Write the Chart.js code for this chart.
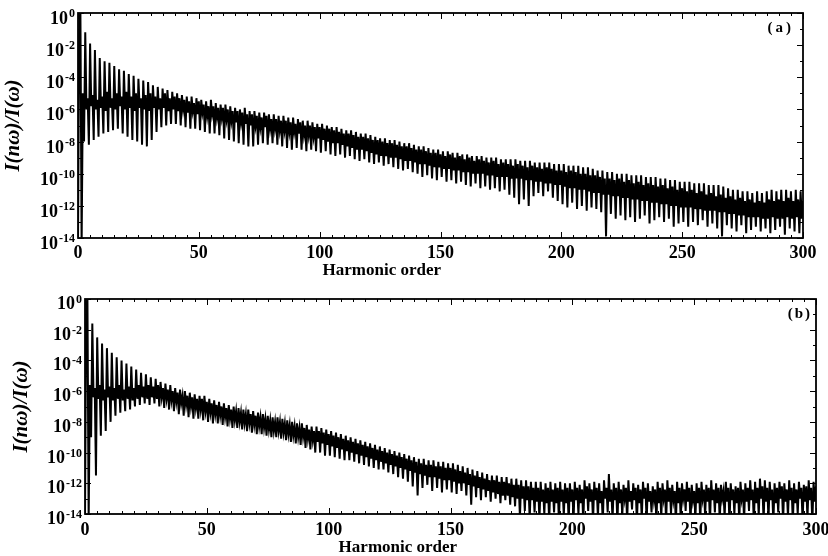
<!DOCTYPE html>
<html>
<head>
<meta charset="utf-8">
<script src="https://cdn.jsdelivr.net/npm/chart.js@4.4.1/dist/chart.umd.min.js"></script>
<style>
  body { margin: 0; background: #fff; width: 828px; height: 556px; overflow: hidden; position: relative; }
  canvas { position: absolute; left: 0; }
  #chartA { top: 0; }
  #chartB { top: 275px; }
</style>
</head>
<body>
<canvas id="chartA" width="828" height="275"></canvas>
<canvas id="chartB" width="828" height="281"></canvas>
<script>
// Values are log10 of I(nw)/I(w).
// "upper" holds the values at whole harmonic orders 0..300,
// "lower" the values half an order later (0.5..299.5).

const upperA = [
  -14.5, 0, -5.0, -1.2, -5.3, -1.9, -5.1, -2.3, -5.4, -2.8,
  -5.2, -3.0, -4.9, -3.1, -5.3, -3.3, -5.0, -3.5, -5.2, -3.6,
  -4.9, -3.8, -5.2, -3.9, -5.0, -4.1, -5.3, -4.2, -5.1, -4.3,
  -5.0, -4.5, -5.2, -4.6, -5.3, -4.7, -5.0, -4.8, -5.3, -4.9,
  -5.2, -5.0, -5.3, -5.1, -5.4, -5.2, -5.5, -5.2, -5.6, -5.3,
  -5.5, -5.4, -5.7, -5.5, -5.8, -5.4, -5.8, -5.6, -5.9, -5.7,
  -5.9, -5.7, -6.0, -5.8, -6.1, -5.9, -6.1, -6.0, -6.2, -5.9,
  -6.3, -6.1, -6.3, -6.1, -6.4, -6.2, -6.5, -6.2, -6.4, -6.3,
  -6.6, -6.3, -6.6, -6.4, -6.7, -6.4, -6.7, -6.5, -6.8, -6.5,
  -6.9, -6.6, -6.8, -6.7, -7.0, -6.7, -7.0, -6.8, -7.1, -6.9,
  -7.1, -6.9, -7.2, -7.0, -7.2, -7.1, -7.3, -7.1, -7.4, -7.2,
  -7.5, -7.3, -7.5, -7.3, -7.6, -7.4, -7.7, -7.5, -7.7, -7.5,
  -7.8, -7.6, -7.9, -7.7, -7.9, -7.8, -8.0, -7.8, -8.1, -7.9,
  -8.1, -7.9, -8.2, -8.0, -8.3, -8.1, -8.3, -8.1, -8.4, -8.2,
  -8.5, -8.3, -8.5, -8.3, -8.6, -8.4, -8.7, -8.5, -8.7, -8.5,
  -8.8, -8.6, -8.9, -8.6, -8.8, -8.7, -9.0, -8.7, -8.9, -8.8,
  -9.1, -8.8, -9.0, -8.9, -9.2, -8.9, -9.1, -8.9, -9.2, -9.0,
  -9.3, -9.0, -9.2, -9.0, -9.4, -9.1, -9.3, -9.1, -9.4, -9.1,
  -9.5, -9.1, -9.4, -9.2, -9.5, -9.2, -9.6, -9.2, -9.5, -9.3,
  -9.6, -9.3, -9.7, -9.3, -9.6, -9.3, -9.7, -9.4, -9.8, -9.4,
  -9.8, -9.4, -9.9, -9.5, -9.8, -9.5, -9.9, -9.5, -10.0, -9.6,
  -10.0, -9.6, -10.1, -9.7, -10.1, -9.8, -10.2, -9.8, -10.3, -9.9,
  -10.3, -9.9, -10.4, -10.0, -10.3, -10.0, -10.5, -10.0, -10.4, -10.1,
  -10.6, -10.1, -10.5, -10.1, -10.7, -10.2, -10.6, -10.2, -10.7, -10.2,
  -10.8, -10.3, -10.7, -10.3, -10.9, -10.4, -10.8, -10.4, -11.0, -10.5,
  -10.9, -10.5, -11.1, -10.5, -11.0, -10.6, -11.2, -10.6, -11.1, -10.6,
  -11.3, -10.7, -11.2, -10.7, -11.4, -10.7, -11.3, -10.8, -11.5, -10.9,
  -11.4, -11.0, -11.6, -11.0, -11.5, -11.1, -11.7, -11.1, -11.6, -11.2,
  -11.8, -11.1, -11.7, -11.2, -11.8, -11.1, -11.6, -11.0, -11.7, -11.1,
  -11.6, -11.0, -11.7, -11.0, -11.5, -11.1, -11.7, -11.0, -11.6, -11.1,
  -11.7
];

const lowerA = [
  -0.3, -14.5, -8.0, -6.0, -8.2, -5.8, -7.9, -6.0, -7.7, -5.9,
  -7.5, -6.1, -7.4, -5.9, -7.3, -6.0, -7.2, -5.8, -7.5, -6.0,
  -7.7, -5.9, -7.9, -6.1, -8.0, -5.9, -8.2, -6.0, -8.3, -6.1,
  -7.9, -5.9, -7.4, -6.0, -7.1, -5.9, -7.0, -6.1, -6.9, -6.0,
  -6.9, -6.1, -7.0, -6.0, -7.1, -6.2, -7.2, -6.1, -7.2, -6.3,
  -7.3, -6.2, -7.4, -6.4, -7.5, -6.3, -7.5, -6.5, -7.6, -6.5,
  -7.8, -6.6, -7.9, -6.7, -8.0, -6.8, -8.1, -6.8, -8.2, -6.9,
  -8.3, -7.0, -8.3, -7.0, -8.2, -7.1, -8.1, -7.1, -8.2, -7.2,
  -8.1, -7.2, -8.2, -7.3, -8.3, -7.3, -8.4, -7.4, -8.5, -7.4,
  -8.4, -7.5, -8.5, -7.6, -8.6, -7.6, -8.5, -7.7, -8.6, -7.8,
  -8.7, -7.9, -8.6, -8.0, -8.8, -8.1, -8.9, -8.1, -8.8, -8.2,
  -9.0, -8.3, -8.9, -8.4, -9.1, -8.5, -9.2, -8.5, -9.1, -8.6,
  -9.3, -8.7, -9.4, -8.8, -9.3, -8.9, -9.5, -8.9, -9.4, -9.0,
  -9.6, -9.0, -9.7, -9.1, -9.8, -9.2, -9.7, -9.2, -9.9, -9.3,
  -10.0, -9.4, -10.2, -9.4, -10.1, -9.5, -10.3, -9.6, -10.4, -9.6,
  -10.2, -9.7, -10.5, -9.7, -10.4, -9.8, -10.6, -9.8, -10.5, -9.9,
  -10.7, -9.9, -10.8, -10.0, -10.6, -10.0, -10.9, -10.0, -10.8, -10.1,
  -11.0, -10.1, -10.9, -10.2, -11.1, -10.2, -11.0, -10.2, -11.3, -10.3,
  -11.5, -10.3, -11.9, -10.3, -11.6, -10.4, -12.0, -10.4, -11.4, -10.5,
  -11.2, -10.5, -11.4, -10.6, -11.1, -10.6, -11.5, -10.7, -11.7, -10.7,
  -11.9, -10.8, -12.1, -10.9, -11.8, -10.9, -12.2, -11.0, -12.0, -11.0,
  -12.3, -11.1, -12.1, -11.2, -12.2, -11.2, -12.4, -11.3, -13.9, -11.3,
  -12.5, -11.4, -12.8, -11.4, -12.6, -11.5, -12.9, -11.5, -12.7, -11.6,
  -13.0, -11.6, -12.8, -11.7, -12.6, -11.7, -13.1, -11.8, -12.9, -11.8,
  -12.7, -11.9, -13.0, -11.9, -12.8, -12.0, -13.3, -12.0, -13.1, -12.1,
  -13.0, -12.1, -13.3, -12.1, -13.0, -12.2, -13.2, -12.2, -12.9, -12.3,
  -13.3, -12.3, -13.1, -12.3, -13.4, -12.4, -13.9, -12.4, -13.2, -12.5,
  -13.4, -12.5, -13.6, -12.6, -13.2, -12.6, -13.7, -12.7, -13.5, -12.7,
  -13.3, -12.7, -13.6, -12.8, -13.4, -12.8, -13.7, -12.7, -13.5, -12.8,
  -13.3, -12.8, -13.8, -12.7, -13.4, -12.8, -13.6, -12.7, -13.7, -12.8
];

const upperB = [
  -14.5, 0, -5.6, -1.6, -5.8, -2.5, -5.6, -2.9, -5.9, -3.2,
  -5.7, -3.5, -5.8, -3.8, -5.6, -4.0, -5.9, -4.2, -5.7, -4.4,
  -5.8, -4.6, -5.6, -4.8, -5.7, -4.9, -5.6, -5.1, -5.7, -5.2,
  -5.6, -5.4, -5.8, -5.5, -5.9, -5.6, -6.0, -5.8, -6.1, -5.9,
  -6.3, -6.0, -6.3, -6.1, -6.4, -6.2, -6.5, -6.3, -6.5, -6.3,
  -6.7, -6.5, -6.8, -6.6, -6.9, -6.7, -7.0, -6.8, -7.1, -6.9,
  -7.2, -7.0, -7.3, -7.1, -7.4, -7.2, -7.5, -7.2, -7.5, -7.3,
  -7.6, -7.4, -7.7, -7.5, -7.8, -7.6, -7.9, -7.7, -8.0, -7.7,
  -8.0, -7.8, -8.1, -7.9, -8.2, -8.0, -8.3, -8.1, -8.4, -8.1,
  -8.4, -8.2, -8.5, -8.3, -8.6, -8.3, -8.6, -8.4, -8.7, -8.5,
  -8.8, -8.6, -8.9, -8.7, -9.0, -8.8, -9.1, -8.9, -9.2, -9.0,
  -9.3, -9.1, -9.4, -9.2, -9.5, -9.3, -9.6, -9.4, -9.7, -9.5,
  -9.8, -9.6, -9.9, -9.7, -10.0, -9.8, -10.1, -9.9, -10.2, -10.0,
  -10.3, -10.1, -10.4, -10.2, -10.5, -10.3, -10.6, -10.4, -10.7, -10.4,
  -10.8, -10.5, -10.8, -10.5, -10.9, -10.6, -10.9, -10.6, -11.0, -10.7,
  -11.0, -10.7, -11.1, -10.8, -11.2, -10.9, -11.3, -11.0, -11.4, -11.1,
  -11.5, -11.2, -11.6, -11.3, -11.7, -11.4, -11.8, -11.5, -11.8, -11.5,
  -11.9, -11.6, -11.9, -11.6, -12.0, -11.7, -12.1, -11.7, -12.1, -11.8,
  -12.2, -11.8, -12.2, -11.9, -12.3, -11.9, -12.3, -11.9, -12.4, -12.0,
  -12.3, -11.9, -12.4, -12.0, -12.3, -11.9, -12.4, -12.0, -12.3, -12.0,
  -12.4, -11.9, -12.3, -12.1, -12.4, -11.8, -12.2, -12.0, -12.4, -11.9,
  -12.3, -12.0, -12.5, -11.8, -12.3, -11.4, -12.4, -12.0, -12.3, -11.9,
  -12.4, -12.1, -12.3, -11.8, -12.5, -12.0, -12.3, -12.1, -12.4, -11.9,
  -12.3, -12.0, -12.5, -12.2, -12.4, -11.9, -12.3, -12.0, -12.4, -11.8,
  -12.3, -12.1, -12.5, -11.9, -12.3, -12.0, -12.4, -11.9, -12.3, -12.1,
  -12.5, -12.0, -12.3, -11.9, -12.4, -12.1, -12.3, -11.8, -12.4, -12.0,
  -12.3, -12.1, -12.5, -11.9, -12.3, -12.0, -12.4, -12.2, -12.3, -11.9,
  -12.4, -12.0, -12.3, -11.8, -12.4, -11.9, -12.3, -11.7, -12.2, -11.8,
  -12.3, -11.9, -12.4, -12.0, -12.3, -11.9, -12.2, -12.0, -12.4, -11.8,
  -12.3, -12.0, -12.4, -11.9, -12.3, -12.1, -12.2, -11.8, -12.3, -11.9,
  -12.2
];

const lowerB = [
  -0.3, -14.5, -9.0, -6.4, -11.5, -6.5, -8.9, -6.6, -8.6, -6.4,
  -8.0, -6.6, -7.6, -6.5, -7.4, -6.6, -7.3, -6.5, -7.2, -6.6,
  -7.0, -6.5, -6.9, -6.4, -6.8, -6.5, -6.9, -6.4, -6.8, -6.5,
  -7.0, -6.4, -7.1, -6.5, -7.2, -6.6, -7.3, -6.7, -7.5, -6.8,
  -7.6, -6.9, -7.7, -7.0, -7.8, -7.1, -7.8, -7.2, -7.9, -7.3,
  -8.0, -7.4, -8.1, -7.5, -8.1, -7.6, -8.2, -7.7, -8.3, -7.8,
  -8.4, -7.9, -8.4, -8.0, -8.5, -8.1, -8.6, -8.1, -8.7, -8.2,
  -8.8, -8.3, -8.8, -8.4, -8.9, -8.5, -9.0, -8.6, -9.0, -8.6,
  -9.1, -8.7, -9.2, -8.8, -9.3, -8.9, -9.4, -9.0, -9.5, -9.0,
  -9.7, -9.1, -9.8, -9.2, -10.0, -9.3, -10.0, -9.4, -10.2, -9.5,
  -10.2, -9.6, -10.3, -9.7, -10.4, -9.8, -10.5, -9.9, -10.5, -10.0,
  -10.6, -10.1, -10.7, -10.2, -10.8, -10.3, -10.9, -10.4, -11.0, -10.5,
  -11.1, -10.6, -11.1, -10.7, -11.3, -10.8, -11.4, -10.9, -11.6, -11.0,
  -11.7, -11.1, -11.9, -11.2, -12.2, -11.3, -12.8, -11.4, -12.3, -11.5,
  -12.1, -11.6, -12.5, -11.6, -12.3, -11.7, -12.6, -11.8, -12.4, -11.8,
  -12.6, -11.9, -12.7, -12.0, -12.5, -12.0, -12.8, -12.1, -13.4, -12.2,
  -12.9, -12.3, -13.1, -12.4, -12.9, -12.5, -13.2, -12.6, -13.0, -12.7,
  -13.3, -12.8, -13.1, -12.8, -13.4, -12.9, -13.5, -13.0, -14.2, -13.0,
  -13.8, -13.1, -14.3, -13.1, -13.9, -13.2, -14.4, -13.2, -14.0, -13.3,
  -14.5, -13.2, -13.9, -13.3, -14.5, -13.2, -14.1, -13.3, -14.5, -13.2,
  -14.4, -13.1, -14.0, -13.3, -14.6, -13.0, -13.8, -13.2, -14.5, -13.1,
  -14.2, -13.3, -14.6, -13.0, -13.9, -13.2, -14.4, -13.1, -14.6, -13.3,
  -14.1, -13.0, -14.5, -13.2, -13.7, -13.1, -14.6, -13.3, -14.3, -13.0,
  -14.5, -13.2, -13.9, -13.1, -14.6, -13.3, -14.2, -13.0, -14.5, -13.2,
  -14.0, -13.1, -14.6, -13.3, -14.4, -13.0, -13.8, -13.2, -14.6, -13.1,
  -14.3, -13.3, -14.5, -13.0, -14.1, -13.2, -14.6, -13.1, -13.9, -13.3,
  -14.5, -13.0, -14.2, -13.2, -14.6, -13.1, -14.0, -13.3, -14.5, -13.0,
  -14.4, -13.2, -13.8, -13.1, -14.6, -13.3, -14.1, -13.0, -14.5, -13.2,
  -14.3, -13.1, -14.6, -13.3, -13.9, -13.0, -14.5, -13.2, -14.2, -13.1,
  -14.6, -13.3, -14.0, -13.0, -14.5, -13.2, -14.3, -13.1, -14.6, -13.2
];

const xTickValues = [0, 50, 100, 150, 200, 250, 300];
const yTickExps = [-14, -12, -10, -8, -6, -4, -2, 0];
const yTickLabels = ['-14', '-12', '-10', '-8', '-6', '-4', '-2', '0'];

const serif = '"Liberation Serif", "Times New Roman", serif';

function toPoints(upper, lower) {
  const points = [];
  upper.forEach((v, n) => {
    points.push({ x: n, y: Math.pow(10, v) });
    if (n < lower.length) points.push({ x: n + 0.5, y: Math.pow(10, lower[n]) });
  });
  return points;
}

// frame with inward ticks on all four sides, y labels as 10 + raised exponent,
// panel tag and axis titles
const framePlugin = {
  id: 'framePlugin',
  afterDraw(chart, args, opts) {
    const { ctx, chartArea: a, scales } = chart;
    ctx.save();
    ctx.strokeStyle = '#000';
    ctx.lineWidth = 1;
    ctx.beginPath();
    for (let v = 0; v <= 300; v += 5) {
      const px = Math.round(scales.x.getPixelForValue(v)) + 0.5;
      const len = v % 50 === 0 ? 6 : 3;
      ctx.moveTo(px, a.bottom); ctx.lineTo(px, a.bottom - len);
      ctx.moveTo(px, a.top); ctx.lineTo(px, a.top + len);
    }
    for (let e = 0; e >= -14; e--) {
      const py = Math.round(scales.y.getPixelForValue(Math.pow(10, e))) + 0.5;
      const len = e % 2 === 0 ? 6 : 3;
      ctx.moveTo(a.left, py); ctx.lineTo(a.left + len, py);
      ctx.moveTo(a.right, py); ctx.lineTo(a.right - len, py);
    }
    ctx.stroke();
    ctx.lineWidth = 1.8;
    ctx.strokeRect(a.left, a.top, a.right - a.left, a.bottom - a.top);

    ctx.fillStyle = '#000';
    ctx.textBaseline = 'alphabetic';
    yTickExps.forEach((e, i) => {
      const py = scales.y.getPixelForValue(Math.pow(10, e));
      const right = a.left - 3;
      ctx.font = 'bold 12px ' + serif;
      ctx.textAlign = 'right';
      ctx.fillText(yTickLabels[i], right, py + opts.expShift);
      const w = ctx.measureText(yTickLabels[i]).width;
      ctx.font = 'bold 18px ' + serif;
      ctx.fillText('10', right - w - 1, py + opts.baseShift);
    });

    ctx.textBaseline = 'middle';
    ctx.textAlign = 'right';
    ctx.font = 'bold 15px ' + serif;
    ctx.letterSpacing = opts.tagSpacing;
    ctx.fillText(opts.tag, a.right - opts.tagInset, a.top + 15);
    ctx.letterSpacing = '0px';

    ctx.font = 'bold 17px ' + serif;
    ctx.textAlign = 'center';
    ctx.fillText('Harmonic order', a.left + opts.titleFrac * (a.right - a.left), opts.titleY);

    ctx.translate(opts.yTitleX, (a.top + a.bottom) / 2);
    ctx.rotate(-Math.PI / 2);
    ctx.font = 'italic bold 21px ' + serif;
    ctx.fillText('I(nω)/I(ω)', 0, 0);
    ctx.restore();
  }
};

function makeChart(canvas, upper, lower, panel) {
  return new Chart(canvas, {
    type: 'line',
    data: {
      datasets: [{
        data: toPoints(upper, lower),
        borderColor: '#000',
        borderWidth: 2,
        pointRadius: 0,
        tension: 0,
        fill: false
      }]
    },
    options: {
      responsive: false,
      animation: false,
      devicePixelRatio: 1,
      events: [],
      layout: { padding: panel.padding },
      plugins: {
        legend: { display: false },
        tooltip: { enabled: false },
        framePlugin: panel.frame
      },
      scales: {
        x: {
          type: 'linear',
          min: 0,
          max: 300,
          afterBuildTicks: (s) => { s.ticks = xTickValues.map((v) => ({ value: v })); },
          afterFit: (s) => { s.height = panel.xHeight; s.paddingLeft = 0; s.paddingRight = 0; },
          grid: { display: false },
          border: { display: false },
          ticks: {
            color: '#000',
            padding: panel.xPad,
            maxRotation: 0,
            autoSkip: false,
            font: { family: serif, size: 18, weight: 'bold' }
          }
        },
        y: {
          type: 'logarithmic',
          min: 1e-14,
          max: 1,
          afterBuildTicks: (s) => { s.ticks = yTickExps.map((e) => ({ value: Math.pow(10, e) })); },
          afterFit: (s) => { s.width = panel.yWidth; s.paddingTop = 0; s.paddingBottom = 0; },
          grid: { display: false },
          border: { display: false },
          ticks: { display: false }
        }
      }
    },
    plugins: [framePlugin]
  });
}

makeChart(document.getElementById('chartA'), upperA, lowerA, {
  padding: { left: 0, top: 13, right: 25, bottom: 0 },
  xHeight: 37,
  yWidth: 78,
  xPad: -3,
  frame: {
    tag: '(a)', tagInset: 9, tagSpacing: '3px', titleFrac: 0.419, titleY: 271, yTitleX: 14,
    expShift: 4, baseShift: 11
  }
});

makeChart(document.getElementById('chartB'), upperB, lowerB, {
  padding: { left: 0, top: 24, right: 12, bottom: 0 },
  xHeight: 42,
  yWidth: 85,
  xPad: -2,
  frame: {
    tag: '(b)', tagInset: 4, tagSpacing: '2px', titleFrac: 0.428, titleY: 273, yTitleX: 22,
    expShift: 4, baseShift: 10
  }
});
</script>
</body>
</html>
